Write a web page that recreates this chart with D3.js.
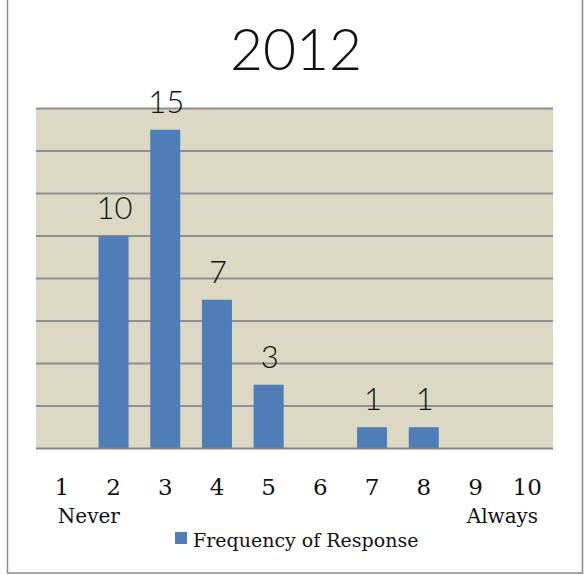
<!DOCTYPE html>
<html>
<head>
<meta charset="utf-8">
<script src="https://cdn.jsdelivr.net/npm/d3@7"></script>
<style>
  html, body { margin: 0; padding: 0; background: #ffffff; }
  svg { display: block; }
</style>
</head>
<body>
<svg id="chart" width="584" height="575"></svg>
<script>
// Survey answers on a 1 (Never) to 10 (Always) scale
const categories = ["1", "2", "3", "4", "5", "6", "7", "8", "9", "10"];
const frequency = [0, 10, 15, 7, 3, 0, 1, 1, 0, 0];
const yTicks = [0, 2, 4, 6, 8, 10, 12, 14, 16];
const chartTitle = "2012";
const seriesName = "Frequency of Response";
const lowAnchor = "Never";
const highAnchor = "Always";

const data = categories.map((c, i) => ({ cat: c, value: frequency[i] }));

const svg = d3.select("#chart");
const plot = { left: 36, right: 553, top: 108.5, bottom: 448.5 };

// outer frame
svg.append("rect")
  .attr("x", 7.5).attr("y", -2).attr("width", 575).attr("height", 575)
  .attr("fill", "#ffffff").attr("stroke", "#8a8a8a").attr("stroke-width", 1.5);

const x = d3.scaleBand().domain(categories).range([plot.left, plot.right]).padding(0);
const y = d3.scaleLinear().domain([0, 16]).range([plot.bottom, plot.top]);
const barW = x.bandwidth() * 0.58;

// plot background
svg.append("rect")
  .attr("x", plot.left).attr("y", plot.top)
  .attr("width", plot.right - plot.left).attr("height", plot.bottom - plot.top)
  .attr("fill", "#ddd8c4");

// horizontal gridlines
svg.append("g").selectAll("line").data(yTicks.slice(1)).join("line")
  .attr("x1", plot.left).attr("x2", plot.right)
  .attr("y1", d => y(d)).attr("y2", d => y(d))
  .attr("stroke", "#8f8f8f").attr("stroke-width", 2);

// bars
svg.append("g").selectAll("rect").data(data.filter(d => d.value > 0)).join("rect")
  .attr("x", d => x(d.cat) + (x.bandwidth() - barW) / 2)
  .attr("width", barW)
  .attr("y", d => y(d.value))
  .attr("height", d => y(0) - y(d.value))
  .attr("fill", "#4e7db7");

// baseline
svg.append("line")
  .attr("x1", plot.left).attr("x2", plot.right)
  .attr("y1", y(0)).attr("y2", y(0))
  .attr("stroke", "#858585").attr("stroke-width", 2);

// value labels
svg.append("g").selectAll("text").data(data.filter(d => d.value > 0)).join("text")
  .attr("x", d => x(d.cat) + x.bandwidth() / 2 + 1)
  .attr("y", d => y(d.value) - 17)
  .attr("text-anchor", "middle")
  .attr("font-family", "Lato, 'Open Sans', sans-serif")
  .attr("font-weight", 300)
  .attr("font-size", 31)
  .attr("fill", "#111")
  .text(d => d.value);

// category axis
const xAxis = d3.axisBottom(x).tickSize(0).tickPadding(0);
const gx = svg.append("g").attr("transform", `translate(0,${plot.bottom})`).call(xAxis);
gx.select(".domain").remove();
gx.selectAll("text")
  .attr("y", 46.5).attr("dy", 0)
  .attr("font-family", "'DejaVu Serif', serif")
  .attr("font-size", 23)
  .attr("fill", "#111");

// scale anchors
svg.append("text")
  .attr("x", x("1") + x.bandwidth() / 2 - 4).attr("y", 523)
  .attr("font-family", "'DejaVu Serif', serif").attr("font-size", 20)
  .attr("fill", "#111").text(lowAnchor);
svg.append("text")
  .attr("x", x("10") + x.bandwidth() / 2 + 11).attr("y", 523)
  .attr("text-anchor", "end")
  .attr("font-family", "'DejaVu Serif', serif").attr("font-size", 20)
  .attr("fill", "#111").text(highAnchor);

// legend
const legend = svg.append("g").attr("transform", "translate(175,532)");
legend.append("rect").attr("width", 12).attr("height", 12).attr("fill", "#4e7db7");
legend.append("text")
  .attr("x", 18).attr("y", 15)
  .attr("font-family", "'DejaVu Serif', serif").attr("font-size", 19)
  .attr("fill", "#111").text(seriesName);

// title
svg.append("text")
  .attr("x", 296).attr("y", 70)
  .attr("text-anchor", "middle")
  .attr("font-family", "Lato, 'Open Sans', sans-serif")
  .attr("font-weight", 300)
  .attr("font-size", 57)
  .attr("fill", "#111")
  .text(chartTitle);
</script>
</body>
</html>
